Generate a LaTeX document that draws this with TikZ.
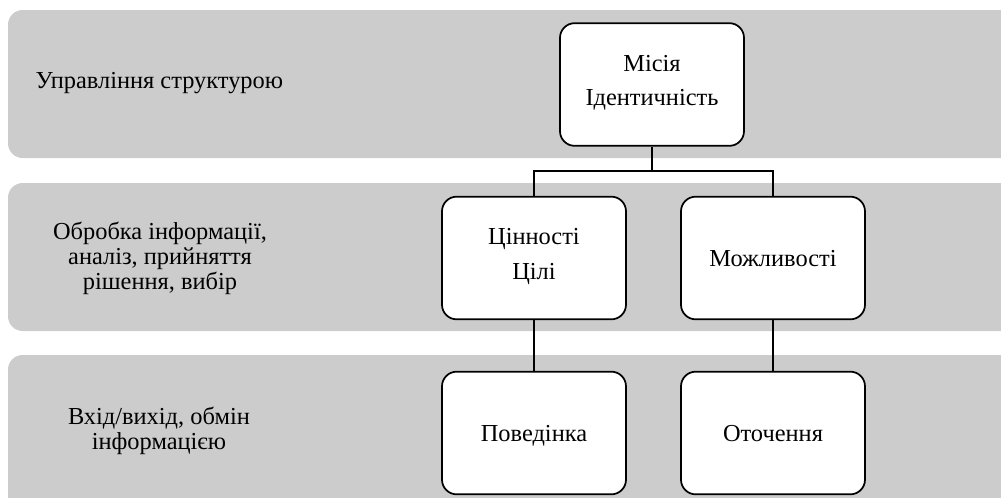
\documentclass[tikz,border=0pt]{standalone}
\usepackage{fontspec}
\setmainfont{Liberation Serif}
\usepackage{xcolor}
\usetikzlibrary{positioning,calc}
\definecolor{bandgray}{RGB}{204,204,204}

\begin{document}
\begin{tikzpicture}[x=0.75pt, y=-0.75pt,
		band/.style={fill=bandgray, rounded corners=11pt},
		box/.style={draw, fill=white, line width=1.3pt, rounded corners=11pt, minimum width=138pt, minimum height=92pt, align=center, font=\fontsize{18.3}{26}\selectfont, execute at begin node={\rule{0pt}{19pt}}, execute at end node={\rule[-6pt]{0pt}{6pt}}},
		lbl/.style={align=center, font=\fontsize{18.3}{18.75}\selectfont},
		link/.style={line width=1pt}]
						\useasboundingbox (0,0) rectangle (1001,497);
						\clip (0,0) rectangle (1001,497);
						% levels
						\fill[band] (8,10) rectangle (1030,158);
						\fill[band] (8,183) rectangle (1030,331);
						\fill[band] (8,355) rectangle (1030,530);
						\node[lbl, anchor=west] (lvltop) at (31,83) {Управління структурою};
						\node[lbl] (lvlmid) at (160,258) {Обробка інформації,\\аналіз, прийняття\\рішення, вибір};
						\node[lbl] (lvlbot) at (159,431) {Вхід/вихід, обмін\\інформацією};
						% blocks
						\node[box] (mis) at (652,84.5) {Місія\\Ідентичність};
						\node[box] (val) at (534,258) {Цінності\\Цілі};
						\node[box] (opp) at (773,258) {Можливості};
						\node[box] (beh) at (534,433) {Поведінка};
						\node[box] (env) at (773,433) {Оточення};
						\coordinate (split) at (652,171);
						\draw[link] (mis) -- (split);
						\draw[link] (val.north) |- (split) -| (opp.north);
						\draw[link] (val) -- (beh);
						\draw[link] (opp) -- (env);
					\end{tikzpicture}
\end{document}
